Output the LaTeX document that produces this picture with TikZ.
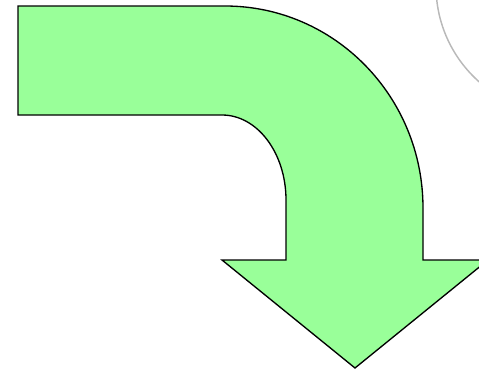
\documentclass[tikz,border=0pt]{standalone}
\usepackage{tikz}

\definecolor{arrowgreen}{RGB}{153,255,153}
\definecolor{arcgray}{RGB}{185,185,185}

\begin{document}
\begin{tikzpicture}[x=0.75pt,y=-0.75pt,
  bentarrow/.style={draw=black,line width=1pt,fill=arrowgreen,line join=miter},
  guidearc/.style={draw=arcgray,line width=1.1pt}]
\clip (0,0) rectangle (479,371);
% faint circle in the corner
\draw[guidearc] (564,-14) circle (128);
% the bent arrow
\path[bentarrow] (18,6) -- (225,6)
  .. controls (334.4,6) and (423,96.4) .. (423,208)
  -- (423,260) -- (488,260) -- (355,368) -- (222,260) -- (286,260) -- (286,200)
  .. controls (286,153) and (257.3,115) .. (222,115)
  -- (18,115) -- cycle;
\end{tikzpicture}
\end{document}
